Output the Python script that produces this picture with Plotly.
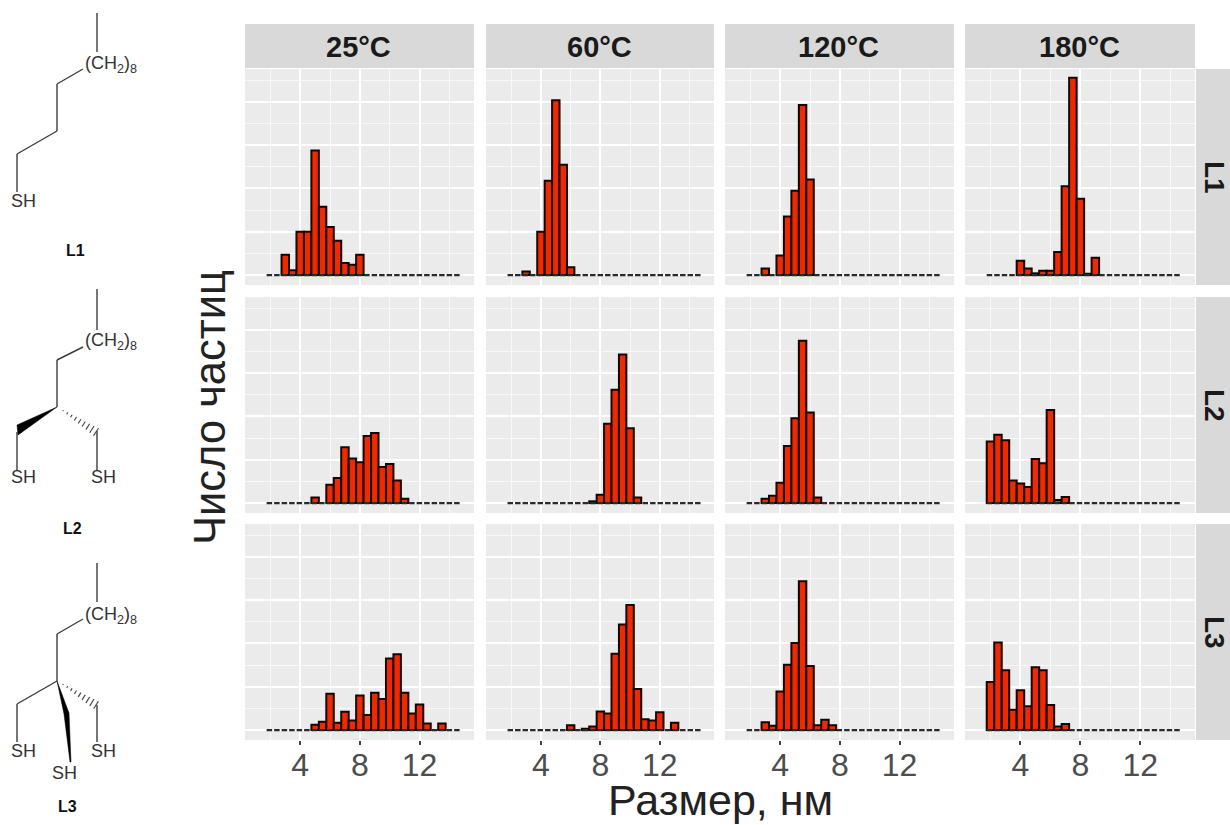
import plotly.graph_objects as go

W, H = 1230, 825
FONT = "Liberation Sans, Arial, sans-serif"

# ---------- data ----------
temperatures = ["25°C", "60°C", "120°C", "180°C"]
ligands = ["L1", "L2", "L3"]
bin_centers = [2.0, 2.5, 3.0, 3.5, 4.0, 4.5, 5.0, 5.5, 6.0, 6.5, 7.0, 7.5, 8.0,
               8.5, 9.0, 9.5, 10.0, 10.5, 11.0, 11.5, 12.0, 12.5, 13.0, 13.5, 14.0, 14.5]
tick_values = [4, 8, 12]
tick_labels = ["4", "8", "12"]

L1_25 = [0, 0, 4.7, 1.1, 10, 10, 28.8, 15.8, 11.1, 7.9, 2.8, 2.4, 4.7, 0, 0, 0, 0, 0, 0, 0, 0, 0, 0, 0, 0, 0]
L1_60 = [0, 0, 0.8, 0, 10, 21.8, 40.4, 25.5, 1.8, 0, 0, 0, 0, 0, 0, 0, 0, 0, 0, 0, 0, 0, 0, 0, 0, 0]
L1_120 = [0, 0, 1.5, 0, 4.5, 13.5, 19.5, 39.3, 22.1, 0, 0, 0, 0, 0, 0, 0, 0, 0, 0, 0, 0, 0, 0, 0, 0, 0]
L1_180 = [0, 0, 0, 0, 3.3, 1.5, 0.4, 1, 1, 5.3, 20.5, 45.6, 17.6, 0.3, 4, 0, 0, 0, 0, 0, 0, 0, 0, 0, 0, 0]

L2_25 = [0, 0, 0, 0, 0, 0, 1.3, 0, 4.2, 5.8, 12.9, 10.3, 9.4, 15.5, 16.2, 8.3, 9, 5.2, 1, 0, 0, 0, 0, 0, 0, 0]
L2_60 = [0, 0, 0, 0, 0, 0, 0, 0, 0, 0, 0, 0.4, 1.9, 18.3, 26.2, 34.3, 17.3, 1.3, 0, 0, 0, 0, 0, 0, 0, 0]
L2_120 = [0, 0, 1, 1.7, 4.7, 13.2, 19.6, 37.5, 20.9, 1.3, 0, 0, 0, 0, 0, 0, 0, 0, 0, 0, 0, 0, 0, 0, 0, 0]
L2_180 = [14.2, 15.8, 14.5, 5.2, 4.5, 3.7, 10.2, 9.2, 21.5, 0.7, 1.4, 0, 0, 0, 0, 0, 0, 0, 0, 0, 0, 0, 0, 0, 0, 0]

L3_25 = [0, 0, 0, 0, 0, 0, 1.2, 1.9, 8.4, 1.7, 4.2, 2.2, 8, 3.5, 8.6, 7.2, 16.5, 17.5, 8.6, 3.8, 5.9, 1.5, 0, 1.5, 0, 0]
L3_60 = [0, 0, 0, 0, 0, 0, 0, 0, 1.1, 0, 0.3, 0.8, 4.3, 3.8, 17.6, 24.4, 28.9, 9.5, 2.5, 2.2, 4.1, 0, 1.7, 0, 0, 0]
L3_120 = [0, 0, 1.8, 1, 8.9, 15.1, 20.1, 34.4, 14.8, 1.1, 2.4, 1.1, 0, 0, 0, 0, 0, 0, 0, 0, 0, 0, 0, 0, 0, 0]
L3_180 = [11.1, 20.2, 13.8, 4.7, 9.2, 5.5, 14.5, 13.8, 5.8, 0.8, 1.4, 0, 0, 0, 0, 0, 0, 0, 0, 0, 0, 0, 0, 0, 0, 0]

series = [[L1_25, L1_60, L1_120, L1_180],
          [L2_25, L2_60, L2_120, L2_180],
          [L3_25, L3_60, L3_120, L3_180]]

# ---------- layout geometry (pixels) ----------
col_px = [(245, 474), (486, 714), (725, 954), (965, 1195)]
row_px = [(69, 285), (297, 513), (524, 740)]
strip_top_px = (24, 68)
strip_right_px = (1196, 1230)
x_range = [0.30, 15.65]
y_range = [-2.3, 47.6]
BAR_COLOR = "#F02A00"


def X(px):
    return px / W


def Y(py):
    return 1 - py / H


fig = go.Figure()
layout = dict(
    width=W, height=H, margin=dict(l=0, r=0, t=0, b=0, pad=0),
    paper_bgcolor="white", plot_bgcolor="#EBEBEB",
    showlegend=False, hovermode=False, barmode="overlay",
    font=dict(family=FONT),
)
shapes, annotations = [], []

n = 0
for r, (top, bot) in enumerate(row_px):
    for c, (left, right) in enumerate(col_px):
        n += 1
        suffix = "" if n == 1 else str(n)
        xa, ya = "x" + suffix, "y" + suffix
        vals = [v if v > 0 else None for v in series[r][c]]
        fig.add_trace(go.Scatter(
            x=[bin_centers[0] - 0.25, bin_centers[-1] + 0.25], y=[0, 0],
            mode="lines", line=dict(color="#2a2a2a", width=2.2, dash="5.5px,2px"),
            xaxis=xa, yaxis=ya, hoverinfo="skip"))
        fig.add_trace(go.Bar(
            x=bin_centers, y=vals, width=0.5,
            marker=dict(color=BAR_COLOR, line=dict(color="#140400", width=2)),
            xaxis=xa, yaxis=ya, hoverinfo="skip"))
        layout["xaxis" + suffix] = dict(
            domain=[X(left), X(right)], range=x_range, anchor=ya,
            tickmode="array", tickvals=tick_values, ticktext=tick_labels,
            showticklabels=r == 2, ticklabelstandoff=-7,
            ticks="outside" if r == 2 else "", ticklen=4, tickwidth=1.5, tickcolor="#444444",
            tickfont=dict(size=32, color="#4d4d4d", family=FONT),
            showgrid=True, gridcolor="white", gridwidth=2, zeroline=False, showline=False,
            minor=dict(tickmode="array", tickvals=[2, 6, 10, 14], showgrid=True,
                       gridcolor="#F8F8F8", gridwidth=1.3, ticks=""),
            fixedrange=True)
        layout["yaxis" + suffix] = dict(
            domain=[Y(bot), Y(top)], range=y_range, anchor=xa,
            dtick=10, tick0=0, showticklabels=False, ticks="",
            showgrid=True, gridcolor="white", gridwidth=2, zeroline=False, showline=False,
            minor=dict(dtick=5, tick0=0, showgrid=True, gridcolor="#F8F8F8", gridwidth=1.3, ticks=""),
            fixedrange=True)


def rect(x0, y0, x1, y1, color):
    shapes.append(dict(type="rect", xref="paper", yref="paper", layer="below",
                       x0=X(x0), x1=X(x1), y0=Y(y0), y1=Y(y1),
                       fillcolor=color, line=dict(width=0)))


def text(px, py, s, size, color="#1a1a1a", angle=0, bold=False):
    annotations.append(dict(
        xref="paper", yref="paper", x=X(px), y=Y(py), xanchor="center", yanchor="middle",
        text=f"<b>{s}</b>" if bold else s, showarrow=False, textangle=angle,
        font=dict(size=size, color=color, family=FONT)))


# strips
for (left, right), name in zip(col_px, temperatures):
    rect(left, strip_top_px[0], right, strip_top_px[1], "#D9D9D9")
    text((left + right) / 2 - 1, sum(strip_top_px) / 2 + 1, name, 29, bold=True)
for (top, bot), name in zip(row_px, ligands):
    rect(strip_right_px[0], top, strip_right_px[1], bot, "#D9D9D9")
    text(sum(strip_right_px) / 2 + 2, (top + bot) / 2, name, 28, angle=90, bold=True)

# axis titles
text(720, 800, "Размер, нм", 43, color="#222222")
text(210, 408, "Число частиц", 43.5, angle=-90, color="#222222")

# ---------- molecule sketches ----------
BOND = "#3c3c3c"


def poly(points, width=1.4):
    for (x0, y0), (x1, y1) in zip(points, points[1:]):
        shapes.append(dict(type="line", xref="paper", yref="paper",
                           x0=X(x0), y0=Y(y0), x1=X(x1), y1=Y(y1),
                           line=dict(color=BOND, width=width)))


def wedge(points):
    path = "M " + " L ".join(f"{X(x)} {Y(y)}" for x, y in points) + " Z"
    shapes.append(dict(type="path", xref="paper", yref="paper", path=path,
                       fillcolor="black", line=dict(color="black", width=0.5)))


def hashed(p0, p1, count=9, maxhalf=4.5):
    dx, dy = p1[0] - p0[0], p1[1] - p0[1]
    length = (dx * dx + dy * dy) ** 0.5
    nx, ny = -dy / length, dx / length
    for i in range(1, count + 1):
        t = i / count
        cx, cy = p0[0] + dx * t, p0[1] + dy * t
        half = maxhalf * t
        poly([(cx - nx * half, cy - ny * half), (cx + nx * half, cy + ny * half)], 1.1)


CH2 = "(CH<sub>2</sub>)<sub>8</sub>"
SH_SIZE = 18

# L1
poly([(97, 13), (97, 52)])
poly([(83, 69), (57, 84), (57, 131), (17, 154), (17, 192)])
text(111, 64, CH2, 18, color="#333333")
text(23, 201, "SH", SH_SIZE, color="#333333")
text(75, 251, "L1", 16, color="#111111", bold=True)

# L2
poly([(97, 289), (97, 330)])
poly([(83, 347), (57, 360), (57, 407)])
wedge([(57, 407), (17, 425), (18, 435)])
poly([(17, 432), (17, 470)])
hashed((59, 408), (96, 432))
poly([(97, 431), (97, 470)])
text(111, 341, CH2, 18, color="#333333")
text(23, 477, "SH", SH_SIZE, color="#333333")
text(103, 477, "SH", SH_SIZE, color="#333333")
text(72, 528, "L2", 16, color="#111111", bold=True)

# L3
poly([(97, 563), (97, 602)])
poly([(83, 619), (57, 634), (57, 681), (17, 704), (17, 742)])
hashed((59, 682), (96, 705))
poly([(97, 705), (97, 742)])
wedge([(57, 681), (69, 713), (71, 762), (70, 762), (64, 714)])
text(111, 615, CH2, 18, color="#333333")
text(23, 751, "SH", SH_SIZE, color="#333333")
text(103, 751, "SH", SH_SIZE, color="#333333")
text(64, 773, "SH", SH_SIZE, color="#333333")
text(67, 806, "L3", 16, color="#111111", bold=True)

layout["shapes"] = shapes
layout["annotations"] = annotations
fig.update_layout(**layout)

fig.write_html("out.html", config=dict(displayModeBar=False, responsive=False),
               post_script="document.body.style.margin='0';document.documentElement.style.overflow='hidden';")
